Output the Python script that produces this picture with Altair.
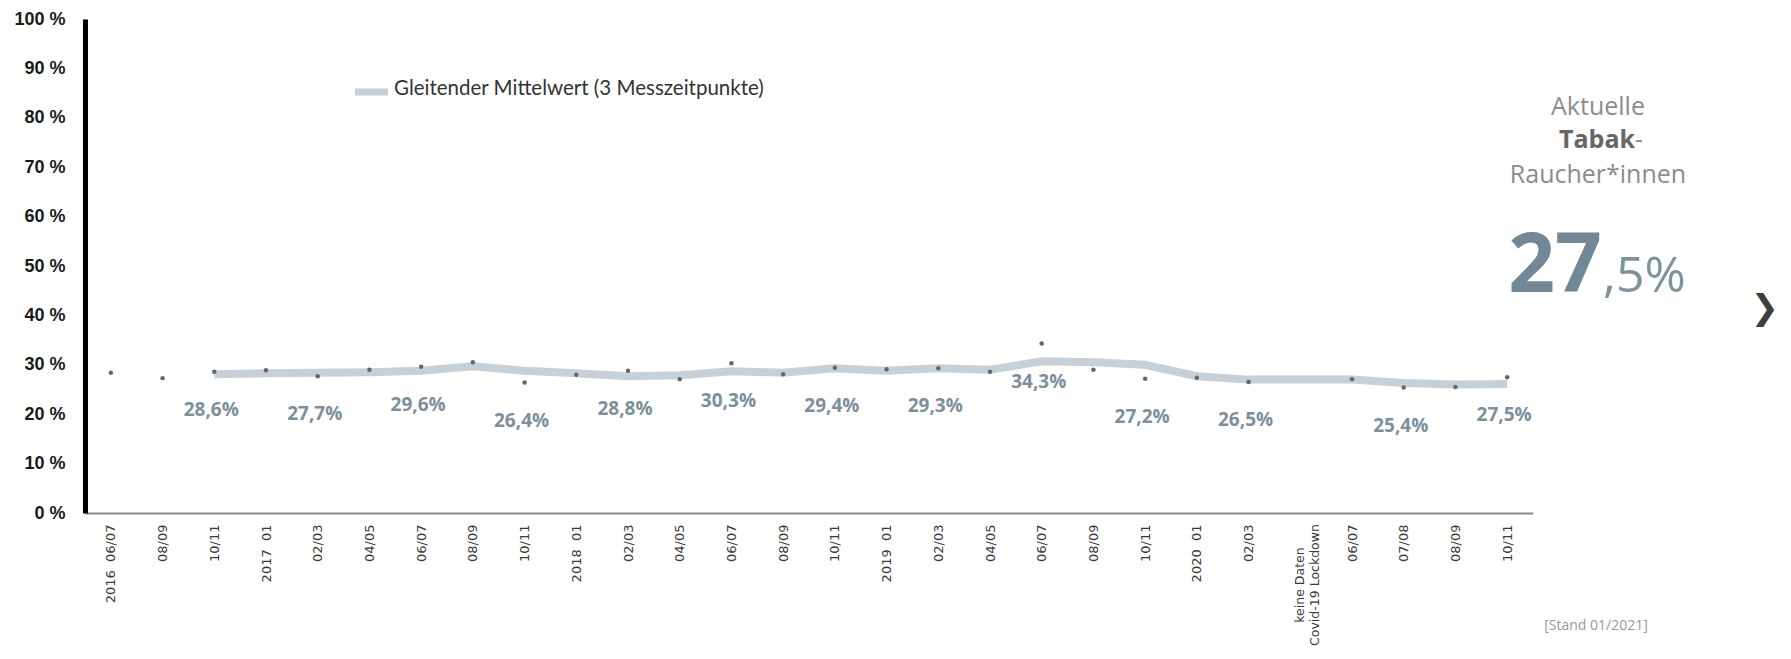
import json
import altair as alt
import pandas as pd

NB = "\u00a0"
x_labels = [
    "2016" + NB * 2 + "06/07", "08/09", "10/11",
    "2017" + NB * 2 + "01", "02/03", "04/05", "06/07", "08/09", "10/11",
    "2018" + NB * 2 + "01", "02/03", "04/05", "06/07", "08/09", "10/11",
    "2019" + NB * 2 + "01", "02/03", "04/05", "06/07", "08/09", "10/11",
    "2020" + NB * 2 + "01", "02/03", "keine Daten\nCovid-19 Lockdown",
    "06/07", "07/08", "08/09", "10/11",
]

# single measurements (dots); None = no data
values = [28.4, 27.3, 28.6, 28.9, 27.7, 29.0, 29.6, 30.5, 26.4, 28.0,
          28.8, 27.1, 30.3, 28.1, 29.4, 29.1, 29.3, 28.6, 34.3, 29.0,
          27.2, 27.4, 26.5, None, 27.1, 25.4, 25.5, 27.5]

ma_idx = [2, 3, 4, 5, 6, 7, 8, 9, 10, 11, 12, 13, 14, 15, 16, 17, 18, 19,
          20, 21, 22, 24, 25, 26, 27]
ma_values = [28.1, 28.3, 28.4, 28.5, 28.8, 29.7, 28.8, 28.3, 27.7, 27.9,
             28.7, 28.4, 29.3, 28.8, 29.3, 29.0, 30.7, 30.5, 30.0, 27.7,
             27.0, 27.0, 26.3, 26.0, 26.1]

label_idx = [2, 4, 6, 8, 10, 12, 14, 16, 18, 20, 22, 25, 27]
y_ticks = [0, 10, 20, 30, 40, 50, 60, 70, 80, 90, 100]

legend_text = "Gleitender Mittelwert (3 Messzeitpunkte)"
current_int = "27"
current_dec = ",5%"
stand_text = "[Stand 01/2021]"

W, H = 1448, 494
LINE_C = "#c8d0d7"
LABEL_C = "#7d8f9b"
BIG_C = "#728896"

n = len(x_labels)
axis_labels = [l if "\n" not in l else "" for l in x_labels]
label_expr = json.dumps(axis_labels, ensure_ascii=False) + "[datum.value]"


def X():
    return alt.X(
        "idx:O",
        scale=alt.Scale(type="point", domain=list(range(n)), padding=0.5),
        axis=alt.Axis(
            title=None, labelAngle=-90, labelExpr=label_expr, ticks=False,
            labelPadding=11, labelFont="DejaVu Sans", labelFontSize=13,
            labelColor="#3a3a3a", domainColor="#8a8a8a", domainWidth=2,
            labelOverlap=False, labelLimit=400, grid=False,
        ),
    )


def Y():
    return alt.Y(
        "v:Q",
        scale=alt.Scale(domain=[0, 100], nice=False, zero=True),
        axis=alt.Axis(
            title=None, values=y_ticks, labelExpr="datum.value + ' %'",
            ticks=False, labelPadding=20, labelFont="Liberation Sans",
            labelFontWeight="bold", labelFontSize=18, labelColor="#1a1a1a",
            domainColor="#000000", domainWidth=5, grid=False,
        ),
    )


pts = pd.DataFrame({"idx": list(range(n)), "v": values}).dropna()
ma = pd.DataFrame({"idx": ma_idx, "v": ma_values})
lab = pd.DataFrame({
    "idx": label_idx,
    "v": [values[i] for i in label_idx],
    "t": [f"{values[i]:.1f}".replace(".", ",") + "%" for i in label_idx],
})
gap = pd.DataFrame({"idx": [i for i, l in enumerate(x_labels) if "\n" in l],
                    "t": [l for l in x_labels if "\n" in l]})

line = alt.Chart(ma).mark_line(color=LINE_C, strokeWidth=8).encode(x=X(), y=Y())
dots = alt.Chart(pts).mark_circle(color="#666666", size=20, opacity=1).encode(x=X(), y=Y())
labels = alt.Chart(lab).mark_text(
    font="Open Sans", fontWeight="bold", fontSize=19, color=LABEL_C,
    dy=38, dx=-3, baseline="middle",
).encode(x=X(), y=Y(), text="t:N")

gap_lab = alt.Chart(gap).mark_text(
    font="DejaVu Sans", fontSize=12.5, color="#3a3a3a", angle=270,
    align="center", baseline="middle", lineBreak="\n", lineHeight=15,
).encode(x=X(), y=alt.value(H + 72), text="t:N")


def txt(t, x, y, **kw):
    return alt.Chart(pd.DataFrame({"t": [t]})).mark_text(**kw).encode(
        x=alt.value(x), y=alt.value(y), text="t:N")


one = pd.DataFrame({"a": [0]})
legend_line = alt.Chart(one).mark_rule(color=LINE_C, strokeWidth=7).encode(
    x=alt.value(270), x2=alt.value(303), y=alt.value(73))
legend_lab = txt(legend_text, 309, 70, font="Lato", fontSize=20.5, color="#333333",
                 align="left", baseline="middle")

side = [
    txt("Aktuelle", 1513, 96, font="Open Sans", fontSize=25, color="#8c8c8c",
        align="center", baseline="alphabetic"),
    txt("Tabak", 1550, 129, font="Open Sans", fontSize=25, fontWeight="bold",
        color="#666666", align="right", baseline="alphabetic"),
    txt("-", 1550, 129, font="Open Sans", fontSize=25, color="#8c8c8c",
        align="left", baseline="alphabetic"),
    txt("Raucher*innen", 1513, 164, font="Open Sans", fontSize=25,
        color="#8c8c8c", align="center", baseline="alphabetic"),
    txt(current_int, 1517, 273, font="Open Sans", fontSize=82, fontWeight="bold",
        color=BIG_C, align="right", baseline="alphabetic"),
    txt(current_dec, 1518, 273, font="Open Sans", fontSize=50, color="#7f939f",
        align="left", baseline="alphabetic"),
    txt("\u276f", 1694, 290, font="DejaVu Sans", fontSize=34,
        color="#3d3d3d", align="right", baseline="middle"),
    txt(stand_text, 1511, 607, font="Open Sans", fontSize=14, color="#999999",
        align="center", baseline="middle"),
]

chart = alt.layer(line, dots, labels, gap_lab, legend_line, legend_lab, *side).properties(
    width=W, height=H,
    autosize=alt.AutoSizeParams(type="none"),
    padding={"left": 77, "top": 11, "right": 250, "bottom": 134},
).configure(background="white").configure_view(stroke=None)

chart.save("out.html", embed_options={"renderer": "svg", "actions": False})
